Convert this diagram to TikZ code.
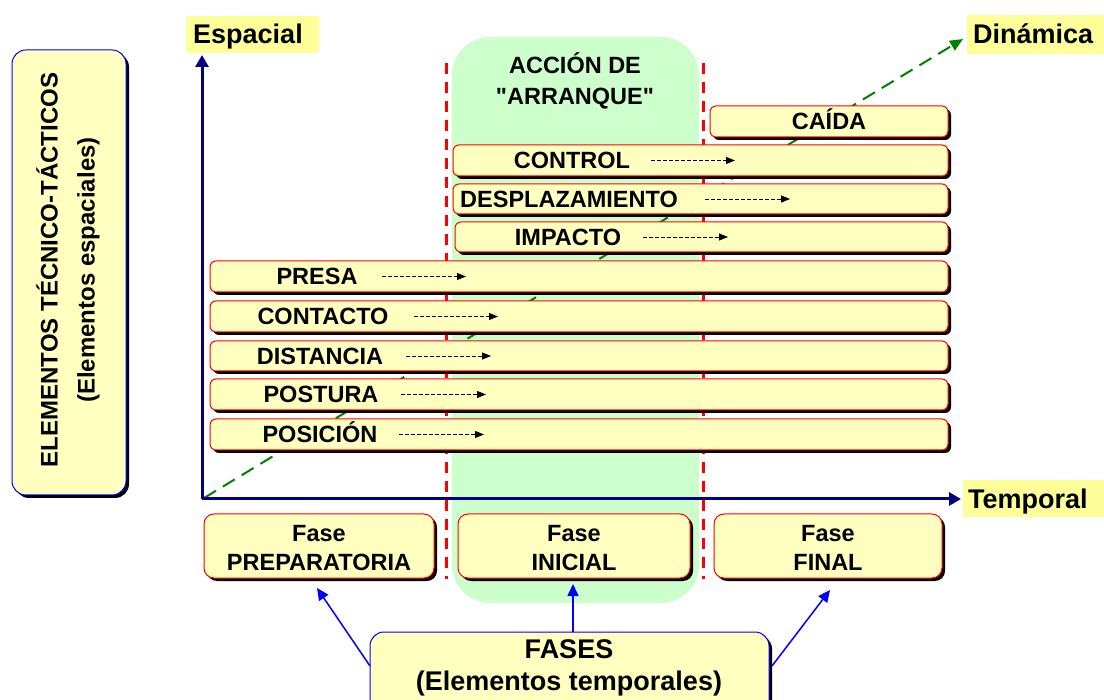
\documentclass[tikz,border=0pt]{standalone}
\usepackage{fontspec}
\setmainfont{Liberation Sans}[Ligatures=TeXOff]
\usetikzlibrary{arrows.meta,shadows}
\definecolor{barfill}{HTML}{FFFFC0}
\definecolor{lblfill}{HTML}{FFFF99}
\definecolor{actfill}{HTML}{CCFFCC}
\definecolor{axisnavy}{HTML}{000080}
\definecolor{dyngreen}{HTML}{008000}
\definecolor{linkblue}{HTML}{0000FF}
\tikzset{
 shadowed/.style={drop shadow={shadow xshift=3pt,shadow yshift=-3pt,opacity=1,fill=black}},
 barbox/.style={draw=red,line width=1pt,fill=barfill,rounded corners=6pt,shadowed,inner sep=0pt,outer sep=0pt},
 bartext/.style={font=\fontsize{23.5}{27}\selectfont\bfseries,inner sep=0pt,text height=16.5pt,text depth=0pt},
 smallarr/.style={black,line width=0.8pt,dash pattern=on 3.5pt off 2.5pt,-{Triangle[length=9pt,width=7pt]}},
 phasebox/.style={draw=red,line width=1pt,fill=barfill,rounded corners=10pt,shadowed,inner sep=0pt,outer sep=0pt},
 phasetext/.style={font=\fontsize{23.5}{29}\selectfont\bfseries,align=center,inner sep=0pt},
 bluebox/.style={draw=linkblue,line width=1pt,fill=barfill,rounded corners=14pt,shadowed,inner sep=0pt,outer sep=0pt},
 lblbox/.style={fill=lblfill,inner sep=0pt,outer sep=0pt},
 lbltext/.style={font=\fontsize{27}{32}\selectfont\bfseries,inner sep=0pt,text height=19.3pt,text depth=0pt},
 axisline/.style={axisnavy,line width=3pt,-{Triangle[length=12pt,width=13pt]}},
 dynline/.style={dyngreen,line width=2pt,dash pattern=on 14pt off 8pt,-{Triangle[length=13pt,width=11pt]}},
 phaseline/.style={red,line width=3pt,dash pattern=on 11pt off 8pt},
 bluearr/.style={linkblue,line width=1.5pt,-{Triangle[length=12pt,width=11pt]}},
}
\newcommand\mybar[8]{%
  \node[barbox,minimum width={(948-#2)*1pt},minimum height={(#4-#3)*1pt}] (#1) at ({(#2+948)/2},{(#3+#4)/2}) {};
  \node[bartext] (#1t) at (#6,{(#3+#4)/2}) {#5};
  \coordinate (#1a) at (#7,{(#3+#4)/2});
  \coordinate (#1b) at (#8,{(#3+#4)/2});
  \draw[smallarr] (#1a) -- (#1b);
}
\begin{document}
\begin{tikzpicture}[x=1pt,y=-1pt]
\useasboundingbox (0,0) rectangle (1104,700);
\clip (0,0) rectangle (1104,700);
% action zone
\fill[actfill,rounded corners=38pt] (452,37) rectangle (699,603);
\node[font=\fontsize{23.5}{31}\selectfont\bfseries,align=center,inner sep=0pt] (accion) at (575,81) {ACCIÓN DE\\"ARRANQUE"};
% phase separators
\coordinate (s1t) at (446,63); \coordinate (s1b) at (446,579);
\coordinate (s2t) at (703,63); \coordinate (s2b) at (703,579);
\draw[phaseline] (s1t) -- (s1b);
\draw[phaseline] (s2t) -- (s2b);
% axes
\coordinate (origin) at (202,499);
\coordinate (ytip) at (202,55);
\coordinate (xtip) at (961,499);
\coordinate (dstart) at (204,498);
\coordinate (dtip) at (963,39);
\draw[dynline] (dstart) -- (dtip);
\draw[axisline] (origin) -- (ytip);
\draw[axisline] (origin) -- (xtip);
% bars
\node[barbox,minimum width=238pt,minimum height=31pt] (caida) at (829,121.5) {};
\node[bartext] (caidat) at (829,121.5) {CAÍDA};
\mybar{control}{453}{145}{176}{CONTROL}{572}{651}{735}
\mybar{despl}{453}{184}{214}{DESPLAZAMIENTO}{569}{705}{790}
\mybar{impacto}{455}{222}{252}{IMPACTO}{568}{643}{728}
\mybar{presa}{210}{261}{292}{PRESA}{317}{382}{466}
\mybar{contacto}{210}{301}{332}{CONTACTO}{323}{414}{498}
\mybar{distancia}{210}{341}{371}{DISTANCIA}{320}{406}{491}
\mybar{postura}{210}{379}{410}{POSTURA}{321}{401}{486}
\mybar{posicion}{210}{419}{450}{POSICIÓN}{320}{399}{484}
% phase boxes
\node[phasebox,minimum width=230pt,minimum height=64pt] (prep) at (319,546) {};
\node[phasetext] (prept) at (319,548) {Fase\\PREPARATORIA};
\node[phasebox,minimum width=232pt,minimum height=64pt] (inic) at (574,546) {};
\node[phasetext] (inict) at (574,548) {Fase\\INICIAL};
\node[phasebox,minimum width=228pt,minimum height=64pt] (fin) at (828,546) {};
\node[phasetext] (fint) at (828,548) {Fase\\FINAL};
% FASES box
\node[bluebox,minimum width=399pt,minimum height=90pt] (fases) at (569.5,677) {};
\node[font=\fontsize{27}{32}\selectfont\bfseries,align=center,inner sep=0pt] (fasest) at (569,668) {FASES\\(Elementos temporales)};
\coordinate (fl) at (370,666);
\coordinate (fm) at (573,632);
\coordinate (fr) at (772,666);
\coordinate (tl) at (317,588);
\coordinate (tm) at (573,584);
\coordinate (tr) at (830,590);
\draw[bluearr] (fl) -- (tl);
\draw[bluearr] (fm) -- (tm);
\draw[bluearr] (fr) -- (tr);
% left box
\node[bluebox,minimum width=114pt,minimum height=445pt] (elem) at (69,272.5) {};
\node[rotate=90,font=\fontsize{24}{37}\selectfont\bfseries,align=center,inner sep=0pt] (elemt) at (68,270) {ELEMENTOS TÉCNICO-TÁCTICOS\\(Elementos espaciales)};
% axis labels
\node[lblbox,minimum width=133pt,minimum height=37pt,anchor=north west] (espb) at (186,16) {};
\node[lbltext,anchor=west] (esp) at (193,34) {Espacial};
\node[lblbox,minimum width=137pt,minimum height=39pt,anchor=north west] (dinb) at (967,15) {};
\node[lbltext,anchor=west] (din) at (973,33.5) {Dinámica};
\node[lblbox,minimum width=141pt,minimum height=37pt,anchor=north west] (temb) at (963,480) {};
\node[lbltext,anchor=west] (tem) at (968,498.5) {Temporal};
\end{tikzpicture}
\end{document}
